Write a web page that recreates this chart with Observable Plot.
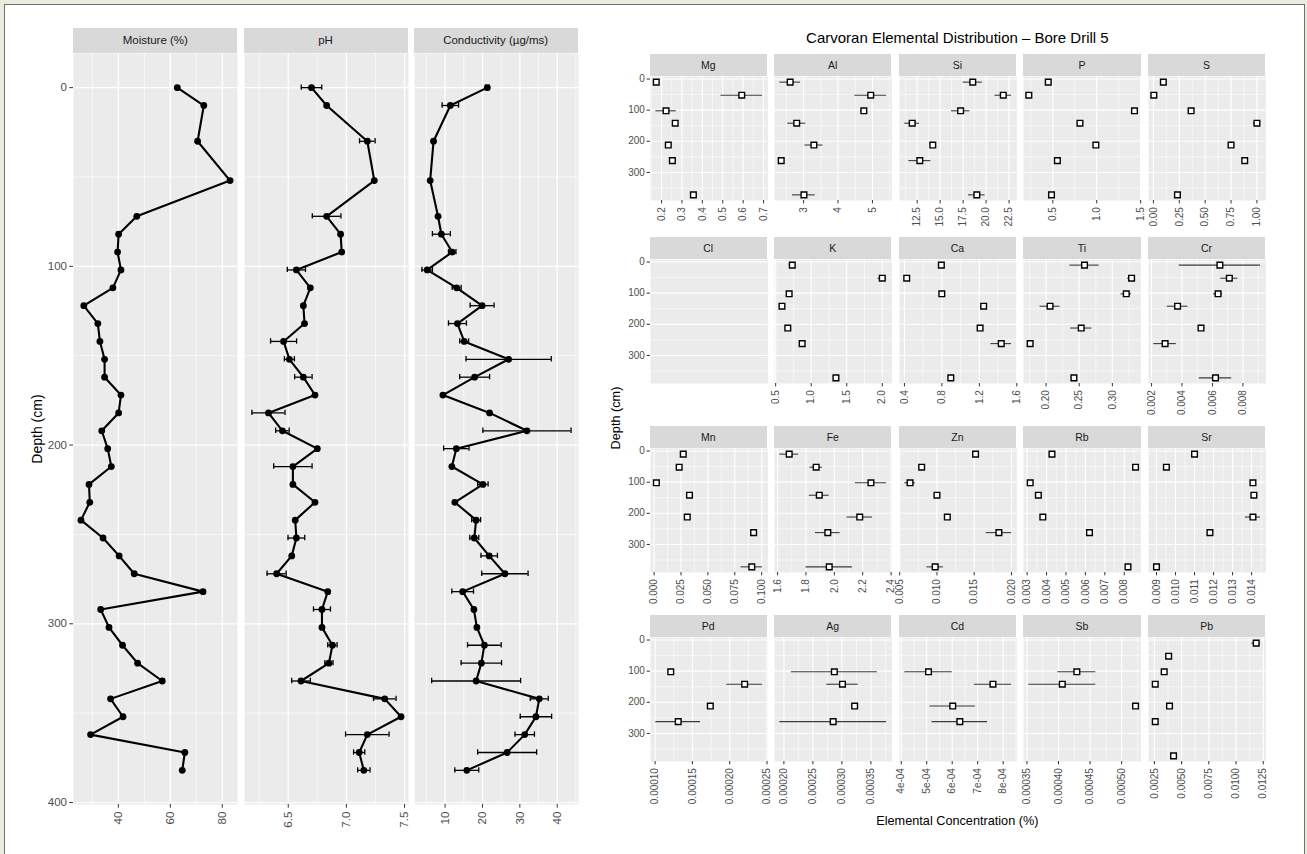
<!DOCTYPE html>
<html>
<head>
<meta charset="utf-8">
<script src="https://cdn.jsdelivr.net/npm/d3@7"></script>
<script src="https://cdn.jsdelivr.net/npm/@observablehq/plot@0.6"></script>
<style>
html,body{margin:0;padding:0;background:#ECEBE0;}
#root{position:relative;width:1307px;height:854px;overflow:hidden;}
#frame{position:absolute;left:4px;top:4px;width:1301px;height:880px;background:#fff;border:1px solid #707070;box-sizing:border-box;}
#root svg{position:absolute;overflow:visible;}
</style>
</head>
<body>
<div id="root"><div id="frame"></div></div>
<script>
// ---------- Left figure: soil profile ----------
const profileDepth = [0,10,30,52,72,82,92,102,112,122,132,142,152,162,172,182,192,202,212,222,232,242,252,262,272,282,292,302,312,322,332,342,352,362,372,382];
const moisture = [62.7,72.9,70.5,83.0,47.1,40.1,39.7,41.0,37.9,26.7,32.1,32.9,34.7,34.7,41.0,40.1,33.6,35.9,37.3,28.7,29.0,25.6,34.1,40.3,46.1,72.6,33.2,36.4,41.6,47.4,56.9,37.0,41.8,29.3,65.6,64.6];
const ph = [6.70,6.83,7.18,7.24,6.83,6.95,6.96,6.57,6.69,6.63,6.64,6.46,6.51,6.63,6.73,6.33,6.45,6.75,6.54,6.54,6.73,6.56,6.57,6.53,6.40,6.84,6.79,6.79,6.88,6.85,6.61,7.33,7.47,7.18,7.11,7.15];
const phErr = [0.088,0,0.067,0,0.123,0,0,0.078,0,0,0,0.112,0.043,0.075,0,0.142,0.058,0,0.165,0,0,0,0.072,0,0.082,0,0.073,0,0.04,0.035,0.08,0.097,0,0.187,0.048,0.053];
const conductivity = [21.3,11.4,6.9,6.0,8.1,9.0,11.9,5.2,13.1,19.9,13.3,15.1,27.0,17.9,9.4,21.9,31.9,13.0,11.8,20.1,12.6,18.3,17.8,21.8,26.0,14.7,17.7,18.5,20.5,19.7,18.3,35.2,34.3,31.3,26.6,15.8];
const conductivityErr = [0.5,2.2,0,0,0,2.4,1.0,1.4,1.2,3.2,2.4,1.2,11.4,4.0,0,0,11.8,3.4,0,1.4,0,1.2,1.2,2.2,6.2,2.9,0,0,4.5,5.4,11.9,2.4,4.2,2.6,7.9,3.2];
const profileTitles = ["Moisture (%)", "pH", "Conductivity (µg/ms)"];
const moistureTicks = [40, 60, 80];
const phTicks = [6.5, 7.0, 7.5];
const conductivityTicks = [10, 20, 30, 40];
const profileDepthTicks = [0, 100, 200, 300, 400];
const profileDepthMinor = [50, 150, 250, 350];

// ---------- Right figure: elemental distribution ----------
const sampleDepth = [10, 52, 102, 142, 212, 262, 372];
const sampleDepthTicks = [0, 100, 200, 300];
const sampleDepthMinor = [50, 150, 250, 350];
const elementNames = ["Mg","Al","Si","P","S","Cl","K","Ca","Ti","Cr","Mn","Fe","Zn","Rb","Sr","Pd","Ag","Cd","Sb","Pb"];

const Mg = [0.174,0.593,0.222,0.267,0.233,0.253,0.356];
const MgErr = [0,0.102,0.05,0,0,0,0];
const MgTicks = [0.2,0.3,0.4,0.5,0.6,0.7];
const Al = [2.61,4.95,4.75,2.80,3.30,2.35,3.01];
const AlErr = [0.3,0.46,0.1,0.26,0.26,0,0.33];
const AlTicks = [3,4,5];
const Si = [18.55,21.87,17.23,11.96,14.2,12.79,18.99];
const SiErr = [1.05,0.9,1.0,0.8,0,1.2,0.9];
const SiTicks = [12.5,15.0,17.5,20.0,22.5];
const P = [0.448,0.227,1.43,0.809,0.99,0.552,0.485];
const PErr = [0,0,0.012,0,0,0,0];
const PTicks = [0.5,1.0,1.5];
const S = [0.096,0.004,0.364,1.0,0.75,0.882,0.232];
const SErr = [0,0,0,0.035,0,0,0];
const STicks = [0,0.25,0.5,0.75,1.0];
const Cl = [null,null,null,null,null,null,null];
const ClErr = [null,null,null,null,null,null,null];
const ClTicks = null;
const K = [0.734,2.0,0.69,0.589,0.671,0.873,1.348];
const KErr = [0,0.06,0,0.03,0,0,0.02];
const KTicks = [0.5,1.0,1.5,2.0];
const Ca = [0.794,0.424,0.799,1.246,1.208,1.434,0.895];
const CaErr = [0,0.02,0,0.025,0,0.11,0.02];
const CaTicks = [0.4,0.8,1.2,1.6];
const Ti = [0.258,0.329,0.321,0.206,0.253,0.176,0.242];
const TiErr = [0.022,0.006,0.008,0.015,0.016,0.002,0.004];
const TiTicks = [0.20,0.25,0.30];
const Cr = [0.00649,0.00711,0.00637,0.00371,0.00525,0.00289,0.0062];
const CrErr = [0.00267,0.00056,0.0003,0.00068,0.0001,0.00074,0.00106];
const CrTicks = [0.002,0.004,0.006,0.008];
const Mn = [0.0271,0.0233,0.0021,0.0329,0.0308,0.0925,0.0908];
const MnErr = [0,0,0.0005,0,0,0,0.01];
const MnTicks = [0,0.025,0.05,0.075,0.1];
const Fe = [1.682,1.872,2.258,1.894,2.179,1.954,1.964];
const FeErr = [0.066,0.044,0.11,0.07,0.089,0.087,0.163];
const FeTicks = [1.6,1.8,2.0,2.2,2.4];
const Zn = [0.01518,0.00795,0.00639,0.0100,0.01139,0.01831,0.00976];
const ZnErr = [0,0,0.0007,0,0.0003,0.0017,0.0011];
const ZnTicks = [0.005,0.01,0.015,0.02];
const Rb = [0.00428,0.00858,0.00316,0.00358,0.00381,0.00621,0.00819];
const RbErr = [0,0,0.00007,0,0,0,0];
const RbTicks = [0.003,0.004,0.005,0.006,0.007,0.008];
const Sr = [0.011,0.00952,0.01407,0.01412,0.01407,0.01181,0.009];
const SrErr = [0.0001,0.0001,0.00008,0.00008,0.0004,0,0.00014];
const SrTicks = [0.009,0.010,0.011,0.012,0.013,0.014];
const Pd = [null,null,0.000121,0.00022,0.000174,0.000131,null];
const PdErr = [null,null,0,0.000024,0,0.00003,null];
const PdTicks = [0.0001,0.00015,0.0002,0.00025];
const Ag = [null,null,0.000287,0.000301,0.000322,0.000285,null];
const AgErr = [null,null,0.000074,0.000027,0,0.000092,null];
const AgTicks = [0.0002,0.00025,0.0003,0.00035];
const Cd = [null,null,0.000507,0.00076,0.000602,0.00063,null];
const CdErr = [null,null,0.000093,0.000073,0.000089,0.000109,null];
const CdTicks = [0.0004,0.0005,0.0006,0.0007,0.0008];
const Sb = [null,null,0.000429,0.000406,0.000522,null,null];
const SbErr = [null,null,0.00003,0.000053,0,null,null];
const SbTicks = [0.00035,0.0004,0.00045,0.0005];
const Pb = [0.01185,0.00381,0.0034,0.00258,0.00389,0.00258,0.00426];
const PbErr = [0.0004,0,0,0.00013,0,0,0];
const PbTicks = [0.0025,0.005,0.0075,0.01,0.0125];
const scientificElements = ["Cd"];

const elementValues = {Mg,Al,Si,P,S,Cl,K,Ca,Ti,Cr,Mn,Fe,Zn,Rb,Sr,Pd,Ag,Cd,Sb,Pb};
const elementErrors = {Mg:MgErr,Al:AlErr,Si:SiErr,P:PErr,S:SErr,Cl:ClErr,K:KErr,Ca:CaErr,Ti:TiErr,Cr:CrErr,Mn:MnErr,Fe:FeErr,Zn:ZnErr,Rb:RbErr,Sr:SrErr,Pd:PdErr,Ag:AgErr,Cd:CdErr,Sb:SbErr,Pb:PbErr};
const elementTicks = {Mg:MgTicks,Al:AlTicks,Si:SiTicks,P:PTicks,S:STicks,Cl:ClTicks,K:KTicks,Ca:CaTicks,Ti:TiTicks,Cr:CrTicks,Mn:MnTicks,Fe:FeTicks,Zn:ZnTicks,Rb:RbTicks,Sr:SrTicks,Pd:PdTicks,Ag:AgTicks,Cd:CdTicks,Sb:SbTicks,Pb:PbTicks};

// ---------- helpers ----------
const fontFamily = '"Liberation Sans", Arial, Helvetica, sans-serif';
const root = document.getElementById("root");

function addDiv(text, style) {
  const d = document.createElement("div");
  d.textContent = text;
  Object.assign(d.style, {position: "absolute", fontFamily, whiteSpace: "nowrap"}, style);
  root.appendChild(d);
  return d;
}
function strip(label, x, y, w, h, fs) {
  addDiv(label, {left: x + "px", top: y + "px", width: w + "px", height: h + "px", lineHeight: h + "px",
    textAlign: "center", background: "#D9D9D9", color: "#1A1A1A", fontSize: fs + "px"});
}
function paddedExtent(vals, errs) {
  let lo = Infinity, hi = -Infinity;
  vals.forEach((v, i) => {
    if (v == null) return;
    const e = errs ? (errs[i] || 0) : 0;
    lo = Math.min(lo, v - e); hi = Math.max(hi, v + e);
  });
  const pad = (hi - lo) * 0.05;
  return [lo - pad, hi + pad];
}
function inDomain(ticks, dom) {
  const tol = (dom[1] - dom[0]) * 0.012;
  return ticks.filter(t => t >= dom[0] - tol && t <= dom[1] + tol);
}
function minorTicks(ticks, dom) {
  const s = ticks[1] - ticks[0], out = [];
  for (let i = -1; i < ticks.length; i++) {
    const m = ticks[0] + (i + 0.5) * s;
    if (m > dom[0] && m < dom[1]) out.push(m);
  }
  return out;
}
function tickFormatter(ticks, sci) {
  if (sci) return v => {
    const [m, e] = v.toExponential(0).split("e");
    const n = +e;
    return m + "e" + (n < 0 ? "-" : "+") + String(Math.abs(n)).padStart(2, "0");
  };
  const dec = d3.max(ticks, t => (String(t).split(".")[1] || "").length);
  return v => v.toFixed(dec);
}

function drawPanel(o) {
  const grid = (vals, w, ax) => (ax === "x" ? Plot.gridX : Plot.gridY)(vals, {stroke: "#FFFFFF", strokeOpacity: 1, strokeWidth: w});
  const marks = [Plot.frame({fill: "#EBEBEB", stroke: "none"})];
  marks.push(grid(o.yMinor, o.minorW, "y"));
  if (o.xTicks) marks.push(grid(minorTicks(o.xTicks, o.xDomain), o.minorW, "x"));
  marks.push(grid(o.yTicks, o.majorW, "y"));
  if (o.xTicks) {
    const shown = inDomain(o.xTicks, o.xDomain);
    marks.push(grid(shown, o.majorW, "x"));
    marks.push(Plot.axisX(shown, {anchor: "bottom", tickSize: o.tickSize, tickPadding: o.xPad, tickRotate: -90,
      tickFormat: o.xFmt, label: null, stroke: "#333333", fill: "#4D4D4D", fontSize: o.fs}));
  }
  if (o.showY) marks.push(Plot.axisY(o.yTicks, {anchor: "left", tickSize: o.tickSize, tickPadding: o.yPad,
    label: null, stroke: "#333333", fill: "#4D4D4D", fontSize: o.fs}));
  marks.push(...o.dataMarks);
  const svg = Plot.plot({
    width: o.w + o.ml, height: o.h + o.mb,
    marginLeft: o.ml, marginRight: 0, marginTop: 0, marginBottom: o.mb,
    x: o.xTicks ? {domain: o.xDomain} : {domain: [0, 1], axis: null},
    y: Object.assign({domain: o.yDomain, reverse: true}, o.showY ? {} : {axis: null}),
    style: {background: "transparent", fontFamily, fontSize: o.fs + "px", overflow: "visible"},
    marks
  });
  svg.style.left = (o.x - o.ml) + "px";
  svg.style.top = o.top + "px";
  root.appendChild(svg);
}

// ---------- Left figure ----------
const L = {x0: 73.3, w: 164, gap: 6.2, stripTop: 28.3, stripH: 25, top: 53.3, h: 751, fs: 11.5};
const profileYDomain = paddedExtent(profileDepth);
const profileSeries = [
  {vals: moisture, errs: null, ticks: moistureTicks},
  {vals: ph, errs: phErr, ticks: phTicks},
  {vals: conductivity, errs: conductivityErr, ticks: conductivityTicks}
];
profileSeries.forEach((s, i) => {
  const x = L.x0 + i * (L.w + L.gap);
  strip(profileTitles[i], x, L.stripTop, L.w, L.stripH, 11.5);
  const rows = profileDepth.map((d, j) => ({depth: d, v: s.vals[j], e: s.errs ? s.errs[j] : 0}));
  const er = rows.filter(r => r.e > 0);
  const cap = 1.5;
  drawPanel({
    x, top: L.top, w: L.w, h: L.h, ml: i === 0 ? 45 : 0, mb: 45,
    xDomain: paddedExtent(s.vals, s.errs), xTicks: s.ticks, xFmt: tickFormatter(s.ticks, false),
    yDomain: profileYDomain, yTicks: profileDepthTicks, yMinor: profileDepthMinor,
    showY: i === 0, fs: L.fs, tickSize: 3.7, xPad: 3.5, yPad: 2.8, majorW: 1.3, minorW: 0.65,
    dataMarks: [
      Plot.ruleY(er, {y: "depth", x1: r => r.v - r.e, x2: r => r.v + r.e, stroke: "#000", strokeWidth: 1.3}),
      Plot.ruleX(er, {x: r => r.v - r.e, y1: r => r.depth - cap, y2: r => r.depth + cap, stroke: "#000", strokeWidth: 1.3}),
      Plot.ruleX(er, {x: r => r.v + r.e, y1: r => r.depth - cap, y2: r => r.depth + cap, stroke: "#000", strokeWidth: 1.3}),
      Plot.line(rows, {x: "v", y: "depth", stroke: "#000", strokeWidth: 2.1}),
      Plot.dot(rows, {x: "v", y: "depth", r: 3.4, fill: "#000"})
    ]
  });
});
addDiv("Depth (cm)", {left: (37 - 100) + "px", top: (429 - 10) + "px", width: "200px", height: "20px", lineHeight: "20px",
  textAlign: "center", fontSize: "14px", color: "#000", transform: "rotate(-90deg)"});

// ---------- Right figure ----------
const R = {x0: 649.5, w: 117.4, gap: 7.2, stripTops: [54.3, 237.3, 426.3, 615.3], stripH: 22, h: 124, fs: 10};
const sampleYDomain = paddedExtent(sampleDepth);
elementNames.forEach((name, k) => {
  const col = k % 5, row = Math.floor(k / 5);
  const x = R.x0 + col * (R.w + R.gap);
  const stripTop = R.stripTops[row];
  strip(name, x, stripTop, R.w, R.stripH, 10.5);
  const vals = elementValues[name], errs = elementErrors[name], ticks = elementTicks[name];
  const rows = sampleDepth.map((d, j) => ({depth: d, v: vals[j], e: errs[j] || 0})).filter(r => r.v != null);
  const er = rows.filter(r => r.e > 0);
  drawPanel({
    x, top: stripTop + R.stripH, w: R.w, h: R.h, ml: col === 0 ? 36 : 0, mb: 50,
    xDomain: ticks ? paddedExtent(vals, errs) : null, xTicks: ticks,
    xFmt: ticks ? tickFormatter(ticks, scientificElements.includes(name)) : null,
    yDomain: sampleYDomain, yTicks: sampleDepthTicks, yMinor: sampleDepthMinor,
    showY: col === 0, fs: R.fs, tickSize: 3.4, xPad: 3.2, yPad: 2.2, majorW: 1.1, minorW: 0.55,
    dataMarks: ticks ? [
      Plot.ruleY(er, {y: "depth", x1: r => r.v - r.e, x2: r => r.v + r.e, stroke: "#3C3C3C", strokeWidth: 1.1}),
      Plot.dot(rows, {x: "v", y: "depth", symbol: "square", r: 3.2, fill: "#FFFFFF", stroke: "#000", strokeWidth: 1.4})
    ] : []
  });
});
const rightCenter = R.x0 + (5 * R.w + 4 * R.gap) / 2;
addDiv("Carvoran Elemental Distribution – Bore Drill 5", {left: (rightCenter - 300) + "px", top: (38 - 11) + "px",
  width: "600px", height: "22px", lineHeight: "22px", textAlign: "center", fontSize: "15px", color: "#000"});
addDiv("Elemental Concentration (%)", {left: (rightCenter - 200) + "px", top: (821 - 10) + "px",
  width: "400px", height: "20px", lineHeight: "20px", textAlign: "center", fontSize: "12.7px", color: "#000"});
addDiv("Depth (cm)", {left: (616 - 100) + "px", top: (418 - 10) + "px", width: "200px", height: "20px", lineHeight: "20px",
  textAlign: "center", fontSize: "12.7px", color: "#000", transform: "rotate(-90deg)"});
</script>
</body>
</html>
